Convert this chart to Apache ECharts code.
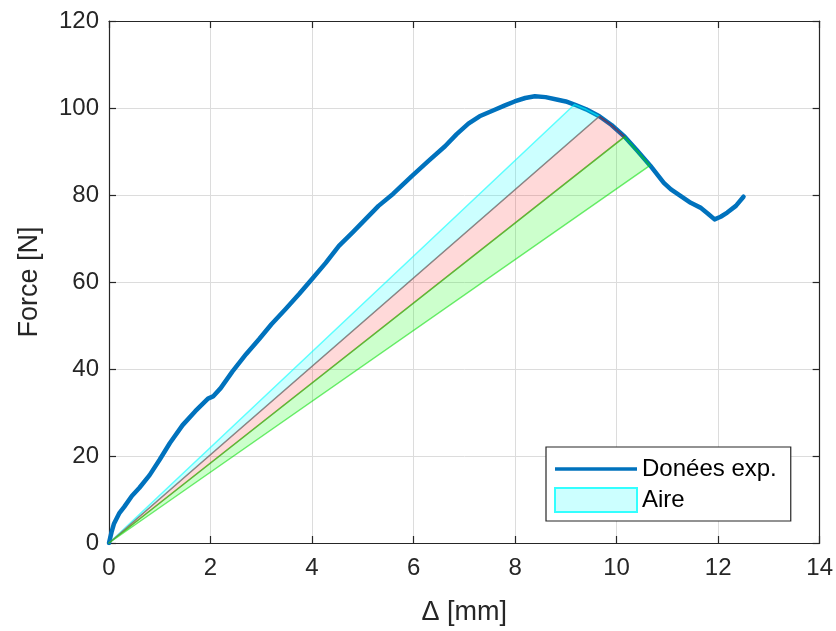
<!DOCTYPE html>
<html>
<head>
<meta charset="utf-8">
<style>
  html, body { margin: 0; padding: 0; background: #ffffff; }
  #chart { width: 836px; height: 631px; }
</style>
<script src="https://cdn.jsdelivr.net/npm/echarts@6/dist/echarts.min.js"></script>
</head>
<body>
<div id="chart"></div>
<script>
// Experimental curve: displacement (mm) and force (N)
var deltaMm = [0, 0.05, 0.1, 0.2, 0.3, 0.45, 0.6, 0.8, 1.0, 1.2, 1.45, 1.7, 1.95, 2.05, 2.2, 2.43, 2.7, 2.96, 3.2, 3.48, 3.75, 4.0, 4.27, 4.53, 4.8, 5.05, 5.31, 5.6, 5.96, 6.3, 6.62, 6.85, 7.08, 7.3, 7.6, 7.8, 7.99, 8.2, 8.39, 8.6, 8.84, 9.0, 9.17, 9.4, 9.66, 9.9, 10.16, 10.4, 10.66, 10.93, 11.07, 11.46, 11.65, 11.8, 11.93, 12.05, 12.18, 12.35, 12.5];
var forceN = [0, 2.5, 4.5, 6.8, 8.3, 10.8, 12.7, 15.6, 19.2, 23.0, 27.1, 30.3, 33.2, 33.7, 35.6, 39.4, 43.4, 46.9, 50.3, 53.8, 57.3, 60.7, 64.4, 68.3, 71.4, 74.4, 77.5, 80.3, 84.3, 87.9, 91.2, 94.0, 96.4, 98.1, 99.6, 100.6, 101.5, 102.3, 102.7, 102.5, 101.9, 101.5, 100.8, 99.7, 98.1, 96.1, 93.4, 90.3, 86.8, 82.8, 81.3, 78.2, 77.1, 75.7, 74.4, 75.0, 75.96, 77.5, 79.6];

// Area regions: bounds in displacement (mm) along the curve
var areaBounds = [9.17, 9.66, 10.16, 10.66];
var areaNames = ['cyan', 'red', 'green'];

// Tick labels
var xTicks = [0, 2, 4, 6, 8, 10, 12, 14];
var yTicks = [0, 20, 40, 60, 80, 100, 120];

var areaStyles = {
  cyan:  { fill: 'rgba(0,255,255,0.2)', stroke: 'rgba(0,255,255,0.6)' },
  red:   { fill: 'rgba(255,0,0,0.15)', stroke: 'rgba(190,0,0,0.45)' },
  green: { fill: 'rgba(0,255,0,0.2)', stroke: 'rgba(0,220,0,0.55)' }
};

var curveData = deltaMm.map(function (x, i) { return [x, forceN[i]]; });
var areaData = areaNames.map(function (n, i) { return [i, areaBounds[i], areaBounds[i + 1]]; });

var FONT = '"Liberation Sans", Arial, Helvetica, sans-serif';
var AX = '#262626';

var chart = echarts.init(document.getElementById('chart'), null, { renderer: 'canvas' });
chart.setOption({
  backgroundColor: '#ffffff',
  animation: false,
  grid: { left: 109, right: 13, top: 21, bottom: 86, containLabel: false },
  xAxis: [{
    type: 'value', min: 0, max: 14, interval: 2, position: 'bottom',
    name: 'Δ [mm]', nameLocation: 'middle', nameGap: 56,
    nameTextStyle: { fontFamily: FONT, fontSize: 27, color: AX },
    axisLine: { show: true, onZero: false, lineStyle: { color: AX, width: 1.2 } },
    axisTick: { show: true, inside: true, length: 7, lineStyle: { color: AX, width: 1.2 } },
    axisLabel: { fontFamily: FONT, fontSize: 24, color: AX, margin: 13,
      formatter: function (v) { return xTicks.indexOf(v) >= 0 ? String(v) : ''; } },
    splitLine: { show: true, lineStyle: { color: '#dcdcdc', width: 1 } }
  }, {
    type: 'value', min: 0, max: 14, interval: 2, position: 'top',
    axisLine: { show: true, onZero: false, lineStyle: { color: AX, width: 1.2 } },
    axisTick: { show: true, inside: true, length: 7, lineStyle: { color: AX, width: 1.2 } },
    axisLabel: { show: false }, splitLine: { show: false }
  }],
  yAxis: [{
    type: 'value', min: 0, max: 120, interval: 20, position: 'left',
    name: 'Force [N]', nameLocation: 'middle', nameGap: 66,
    nameTextStyle: { fontFamily: FONT, fontSize: 27, color: AX },
    axisLine: { show: true, onZero: false, lineStyle: { color: AX, width: 1.2 } },
    axisTick: { show: true, inside: true, length: 7, lineStyle: { color: AX, width: 1.2 } },
    axisLabel: { fontFamily: FONT, fontSize: 24, color: AX, margin: 10,
      formatter: function (v) { return yTicks.indexOf(v) >= 0 ? String(v) : ''; } },
    splitLine: { show: true, lineStyle: { color: '#dcdcdc', width: 1 } }
  }, {
    type: 'value', min: 0, max: 120, interval: 20, position: 'right',
    axisLine: { show: true, onZero: false, lineStyle: { color: AX, width: 1.2 } },
    axisTick: { show: true, inside: true, length: 7, lineStyle: { color: AX, width: 1.2 } },
    axisLabel: { show: false }, splitLine: { show: false }
  }],
  legend: {
    orient: 'vertical', left: 546, top: 447,
    padding: [10, 14, 8, 8],
    itemWidth: 82, itemHeight: 24, itemGap: 6,
    backgroundColor: '#ffffff', borderColor: AX, borderWidth: 1.2, borderRadius: 0,
    textStyle: { fontFamily: FONT, fontSize: 24, color: '#000000', padding: [0, 0, 0, 0] },
    data: [
      { name: 'Donées exp.', icon: 'path://M0,0 L100,0 L100,4 L0,4 Z', itemStyle: { color: '#0072BD', borderWidth: 0 } },
      { name: 'Aire', icon: 'rect', itemStyle: { color: '#ccffff', borderColor: '#33ffff', borderWidth: 2 } }
    ]
  },
  series: [{
    name: 'Donées exp.', type: 'line', data: curveData,
    xAxisIndex: 0, yAxisIndex: 0,
    symbol: 'none', smooth: false,
    lineStyle: { color: '#0072BD', width: 4.5, join: 'round', cap: 'round' },
    itemStyle: { color: '#0072BD' },
    z: 2
  }, {
    name: 'Aire', type: 'custom', data: areaData,
    xAxisIndex: 0, yAxisIndex: 0,
    itemStyle: { color: '#ccffff' },
    z: 3,
    renderItem: function (params, api) {
      var idx = api.value(0);
      var a = api.value(1), b = api.value(2);
      var pts = [api.coord([0, 0])];
      for (var i = 0; i < deltaMm.length; i++) {
        if (deltaMm[i] >= a - 1e-9 && deltaMm[i] <= b + 1e-9) {
          pts.push(api.coord([deltaMm[i], forceN[i]]));
        }
      }
      var st = areaStyles[areaNames[idx]];
      return {
        type: 'polygon',
        shape: { points: pts },
        style: { fill: st.fill, stroke: st.stroke, lineWidth: 1.5, lineJoin: 'round' }
      };
    }
  }]
});
</script>
</body>
</html>
